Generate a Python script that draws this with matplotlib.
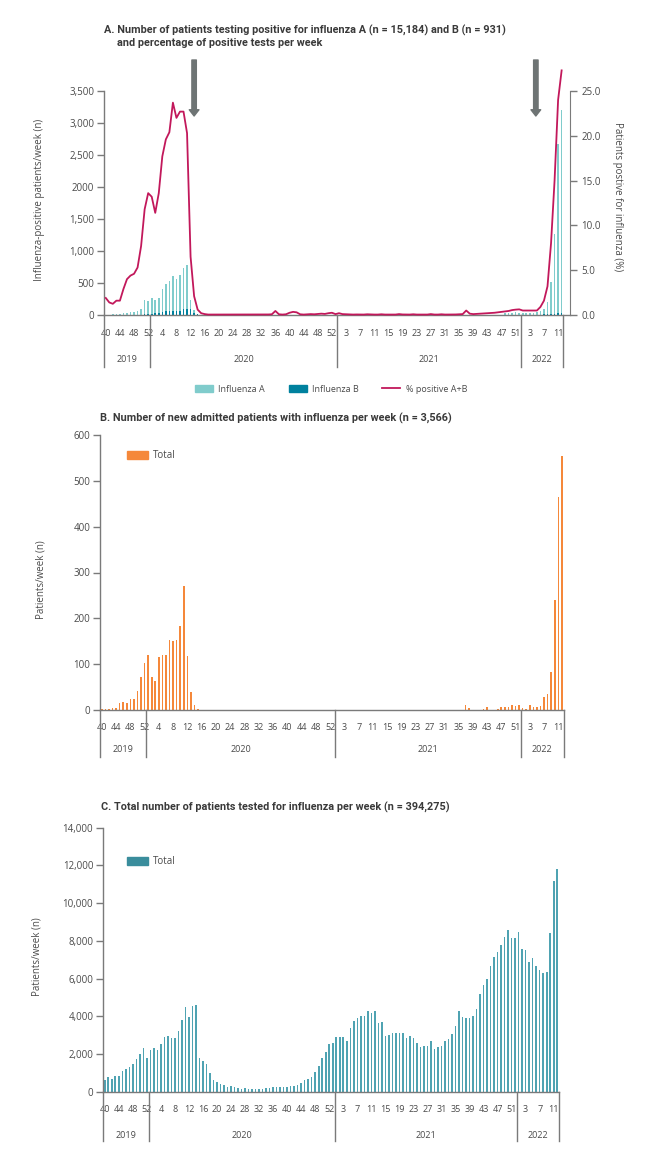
import numpy as np
import matplotlib
matplotlib.use("Agg")
import matplotlib.pyplot as plt
from matplotlib.patches import Patch
from matplotlib.lines import Line2D
from matplotlib.transforms import blended_transform_factory

# ---- data: weekly values, 2019 w40 .. 2022 w12 ----
season_years = [2019, 2020, 2021, 2022]
first_week = [40, 1, 1, 1]
last_week = [52, 53, 52, 12]

flu_a = ([3, 5, 8, 10, 15, 25, 30, 40, 50, 70, 100, 240, 225]
         + [260, 235, 260, 400, 480, 530, 610, 560, 620, 740, 780, 240, 80, 15, 5, 2, 1]
         + [0] * 36
         + [0] * 47 + [25, 30, 35, 40, 35]
         + [35, 30, 30, 35, 40, 60, 100, 200, 510, 1270, 2670, 3200])
flu_b = ([0] * 10 + [5, 10, 15]
         + [20, 25, 30, 45, 55, 60, 55, 70, 65, 100, 95, 95, 30, 8] + [0] * 39
         + [0] * 47 + [3, 4, 5, 6, 5]
         + [4, 4, 5, 5, 5, 5, 8, 10, 15, 20, 30, 35])
pct_positive = ([1.9, 1.4, 1.25, 1.6, 1.6, 2.9, 4.0, 4.4, 4.6, 5.3, 7.7, 11.8, 13.6]
                + [13.2, 11.4, 13.6, 17.7, 19.6, 20.4, 23.7, 22.0, 22.7, 22.7, 20.3, 6.5, 2.1,
                   0.6, 0.2, 0.1, 0.05]
                + [0.05, 0.04, 0.05, 0.05, 0.04, 0.05, 0.05, 0.05, 0.04, 0.05, 0.05, 0.05,
                   0.05, 0.04, 0.05, 0.05, 0.06, 0.08]
                + [0.45, 0.08, 0.05, 0.08, 0.25, 0.35, 0.3, 0.08, 0.05, 0.08, 0.1, 0.08,
                   0.12, 0.15, 0.12, 0.2, 0.25, 0.1]
                + [0.2, 0.1, 0.08, 0.06, 0.05, 0.06, 0.05, 0.05, 0.08, 0.06, 0.05, 0.05,
                   0.08, 0.05, 0.05, 0.06, 0.05, 0.1, 0.06, 0.05, 0.05, 0.08, 0.05, 0.05,
                   0.06, 0.05, 0.1, 0.05, 0.05, 0.08, 0.05, 0.05, 0.05, 0.06, 0.08, 0.1,
                   0.5, 0.15, 0.1, 0.12, 0.15, 0.18, 0.2, 0.22, 0.25, 0.3, 0.35, 0.4,
                   0.45, 0.55, 0.6, 0.63]
                + [0.5, 0.5, 0.5, 0.5, 0.5, 0.9, 1.6, 3.2, 8.0, 15.0, 24.0, 27.3])
admitted = ([3, 3, 3, 4, 4, 15, 18, 16, 24, 24, 42, 73, 102]
            + [121, 73, 64, 115, 121, 120, 153, 151, 153, 183, 270, 117, 40, 10, 2, 0]
            + [0] * 30 + [1, 0, 1, 1, 0, 1, 1]
            + [0] * 36 + [10, 4, 0, 0, 0, 3, 6, 0, 1, 3, 7, 7, 7, 11, 9, 12]
            + [4, 2, 10, 6, 6, 9, 29, 36, 84, 240, 465, 554])
tested = ([635, 777, 688, 865, 865, 1130, 1218, 1341, 1500, 1730, 2012, 2312, 1783]
          + [2224, 2312, 2206, 2541, 2930, 2965, 2877, 2877, 3248, 3812, 4483, 3989, 4554,
             4624, 1783, 1659, 1483, 1024, 635, 512, 424, 388, 282, 318, 247, 230, 176,
             194, 159, 159, 159, 159, 176, 212, 212, 247, 265, 265, 265, 282, 318, 335,
             371, 494, 635, 688, 812, 1041, 1377, 1818, 2118, 2559, 2612]
          + [2912, 2912, 2912, 2700, 3371, 3759, 3936, 4042, 4024, 4289, 4200, 4289, 3636,
             3706, 2989, 3024, 3148, 3148, 3148, 3100, 2883, 2989, 2883, 2612, 2365, 2436,
             2453, 2718, 2277, 2400, 2436, 2700, 2824, 3071, 3495, 4289, 3953, 3936, 3936,
             4042, 4377, 5171, 5665, 5983, 6689, 7147, 7394, 7765, 8207, 8560, 8172, 8172]
          + [8454, 7589, 7500, 6883, 7094, 6671, 6442, 6318, 6336, 8418, 11154, 11825])

# arrows mark (year, week)
arrow_weeks = [(2020, 13.0), (2022, 4.7)]

W, H = 655, 1153
TXT = "#4a4a4a"
AXC = "#7a7a7a"
A_COL = "#80cccc"
B_COL = "#00819e"
LINE = "#c2185b"
ORANGE = "#f5883a"
TEAL = "#4fa3b2"

plt.rcParams["font.family"] = ["Open Sans", "DejaVu Sans"]
TITLE_FONT = ["Liberation Sans Narrow", "Roboto", "DejaVu Sans"]
TITLE_SIZE = 7.8

week_labels, week_year = [], []
for yr, w0, w1 in zip(season_years, first_week, last_week):
    for w in range(w0, w1 + 1):
        week_year.append(yr)
        week_labels.append(w)
x = np.arange(len(week_labels))
starts = [week_year.index(yr) for yr in season_years]
bounds = [s - 0.5 for s in starts] + [len(x) - 0.5]
centers = [(a + b) / 2 for a, b in zip(bounds[:-1], bounds[1:])]

fig = plt.figure(figsize=(W / 100, H / 100), dpi=100)


def px_axes(left, top, right, bottom):
    return fig.add_axes([left / W, 1 - bottom / H, (right - left) / W, (bottom - top) / H])


def style(ax):
    for s in ("top", "right"):
        ax.spines[s].set_visible(False)
    for s in ("left", "bottom"):
        ax.spines[s].set_color(AXC)
        ax.spines[s].set_linewidth(1.0)
    ax.tick_params(axis="y", length=5, width=1, color=AXC, labelsize=7,
                   labelcolor=TXT, pad=2)


def week_axis(ax, axis_px, label_pad, year_px, sep_px):
    ax.set_xticks(x[::4], [str(w) for w in week_labels[::4]])
    ax.tick_params(axis="x", length=0, pad=label_pad, labelsize=6.5, labelcolor=TXT)
    tr = blended_transform_factory(ax.transData, fig.transFigure)
    for b in bounds:
        ax.plot([b, b], [1 - axis_px / H, 1 - sep_px / H], transform=tr, color=AXC,
                lw=1, clip_on=False)
    for yr, c in zip(season_years, centers):
        ax.text(c, 1 - year_px / H, str(yr), transform=tr, ha="center", va="center",
                fontsize=6.5, color=TXT)


def week_pos(yr, wk):
    return starts[season_years.index(yr)] + wk - first_week[season_years.index(yr)]


def title(xpx, ypx, s):
    fig.text(xpx / W, 1 - ypx / H, s, fontsize=TITLE_SIZE, fontweight="bold",
             color="#3a3a3a", va="center", family=TITLE_FONT)


# ---- A ----
axA = px_axes(104, 91, 570, 315)
axA.bar(x, flu_a, width=0.45, color=A_COL, lw=0)
axA.bar(x, flu_b, width=0.45, color=B_COL, lw=0)
axA.set_xlim(-0.5, len(x) - 0.5 + 6.6 / 3.534)
axA.set_ylim(0, 3500)
axA.set_yticks(range(0, 3501, 500),
               ["0", "500", "1,000", "1,500", "2000", "2,500", "3,000", "3,500"])
style(axA)
week_axis(axA, 315, 10, 360, 367)

ax2 = axA.twinx()
ax2.set_ylim(0, 25)
ax2.plot(x, pct_positive, color=LINE, lw=1.3, clip_on=False, solid_joinstyle="round")
for s in ("top", "left", "bottom"):
    ax2.spines[s].set_visible(False)
ax2.spines["right"].set_color(AXC)
ax2.set_yticks(range(0, 26, 5), [f"{v:.1f}" for v in range(0, 26, 5)])
ax2.tick_params(axis="y", length=5, width=1, color=AXC, labelsize=7, labelcolor=TXT, pad=3)

for yr, wk in arrow_weeks:
    xa = week_pos(yr, wk)
    ax2.annotate("", xy=(xa, 1 - 116 / H), xycoords=("data", "figure fraction"),
                 xytext=(xa, 1 - 60 / H), textcoords=("data", "figure fraction"),
                 arrowprops=dict(arrowstyle="simple,head_length=0.45,head_width=0.7,tail_width=0.32",
                                 color="#6e7474", shrinkA=0, shrinkB=0, mutation_scale=10),
                 annotation_clip=False)

fig.legend([Patch(color=A_COL), Patch(color=B_COL), Line2D([], [], color=LINE, lw=1.3)],
           ["Influenza A", "Influenza B", "% positive A+B"], loc="center",
           bbox_to_anchor=(331 / W, 1 - 389 / H), ncol=3, frameon=False, fontsize=6.5,
           handlelength=2.0, handleheight=0.7, columnspacing=2.6, handletextpad=0.6,
           labelcolor=TXT)

title(104, 30, "A. Number of patients testing positive for influenza A (n = 15,184) and B (n = 931)")
title(117, 43, "and percentage of positive tests per week")
fig.text(40 / W, 1 - 200 / H, "Influenza-positive patients/week (n)", rotation=90,
         ha="center", va="center", fontsize=7, color=TXT)
fig.text(617 / W, 1 - 197 / H, "Patients postive for influenza (%)", rotation=270,
         ha="center", va="center", fontsize=7, color=TXT)

# ---- B ----
axB = px_axes(100, 435, 563.7, 710)
axB.bar(x, admitted, width=0.45, color=ORANGE, lw=0)
axB.set_xlim(-0.5, len(x) - 0.5)
axB.set_ylim(0, 600)
axB.set_yticks(range(0, 601, 100))
style(axB)
week_axis(axB, 710, 9, 750, 757)
axB.legend([Patch(color=ORANGE)], ["Total"], loc="center left",
           bbox_to_anchor=(118 / W, 1 - 456 / H), bbox_transform=fig.transFigure,
           frameon=False, fontsize=7, handlelength=2.2, handleheight=0.8,
           handletextpad=0.5, labelcolor=TXT)
title(100, 418, "B. Number of new admitted patients with influenza per week (n = 3,566)")
fig.text(41 / W, 1 - 580 / H, "Patients/week (n)", rotation=90, ha="center", va="center",
         fontsize=7, color=TXT)

# ---- C ----
axC = px_axes(103, 827.7, 559, 1092)
axC.bar(x, tested, width=0.45, color=TEAL, lw=0)
axC.set_xlim(-0.5, len(x) - 0.5)
axC.set_ylim(0, 14000)
axC.set_yticks(range(0, 14001, 2000), [f"{v:,}" for v in range(0, 14001, 2000)])
style(axC)
week_axis(axC, 1092, 9, 1135, 1141)
axC.legend([Patch(color="#3a8d9c")], ["Total"], loc="center left",
           bbox_to_anchor=(118 / W, 1 - 862 / H), bbox_transform=fig.transFigure,
           frameon=False, fontsize=7, handlelength=2.2, handleheight=0.8,
           handletextpad=0.5, labelcolor=TXT)
title(101, 807, "C. Total number of patients tested for influenza per week (n = 394,275)")
fig.text(37 / W, 1 - 957 / H, "Patients/week (n)", rotation=90, ha="center", va="center",
         fontsize=7, color=TXT)

fig.savefig("out.png", dpi=100)
